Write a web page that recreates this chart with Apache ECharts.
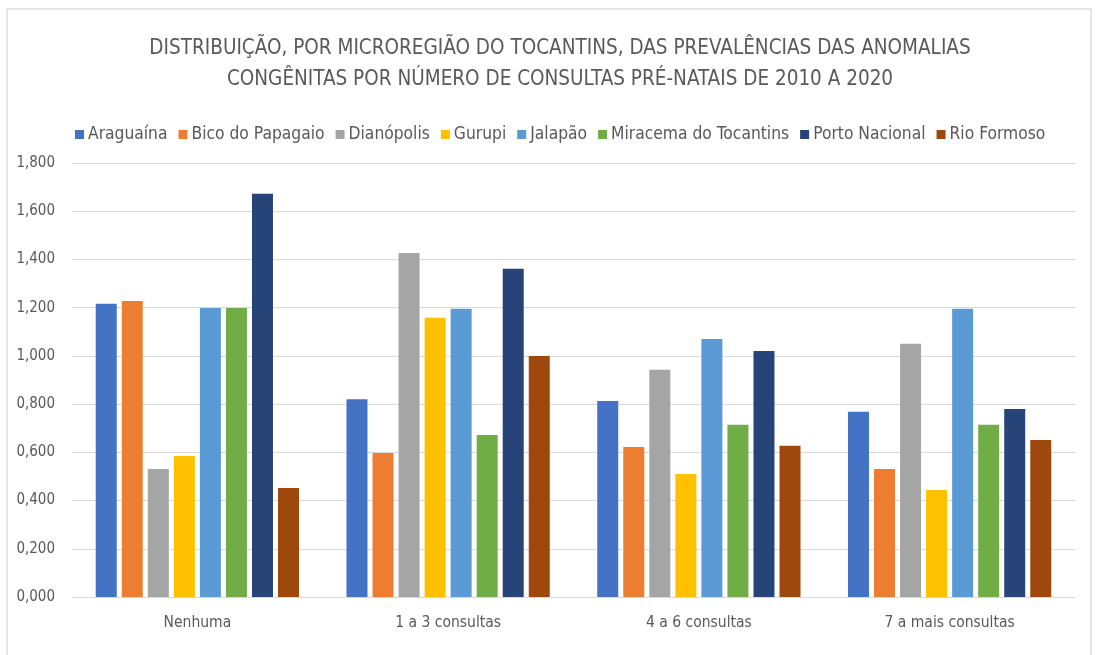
<!DOCTYPE html>
<html><head><meta charset="utf-8">
<script src="https://cdn.jsdelivr.net/npm/echarts@6/dist/echarts.min.js"></script>
<style>html,body{margin:0;padding:0;background:#fff}#c{width:1095px;height:655px}</style>
</head><body><div id="c"></div>
<script>
const categories = ['Nenhuma', '1 a 3 consultas', '4 a 6 consultas', '7 a mais consultas'];
const seriesNames = ['Araguaína', 'Bico do Papagaio', 'Dianópolis', 'Gurupi', 'Jalapão', 'Miracema do Tocantins', 'Porto Nacional', 'Rio Formoso'];
const araguaina = [1.216, 0.820, 0.813, 0.768];
const bico = [1.228, 0.597, 0.622, 0.531];
const dianopolis = [0.531, 1.427, 0.942, 1.050];
const gurupi = [0.585, 1.158, 0.510, 0.444];
const jalapao = [1.199, 1.195, 1.070, 1.195];
const miracema = [1.199, 0.672, 0.714, 0.714];
const portoNacional = [1.672, 1.361, 1.020, 0.780];
const rioFormoso = [0.452, 1.000, 0.627, 0.651];
const values = [araguaina, bico, dianopolis, gurupi, jalapao, miracema, portoNacional, rioFormoso];
const colors = ['#4472C4', '#ED7D31', '#A5A5A5', '#FFC000', '#5B9BD5', '#70AD47', '#264478', '#9E480E'];
const font = '"Liberation Sans Narrow", "DejaVu Sans Condensed", sans-serif';

const chart = echarts.init(document.getElementById('c'), null, {renderer: 'canvas'});
chart.setOption({
  animation: false,
  color: colors,
  graphic: [{
    type: 'rect', silent: true,
    shape: {x: 7, y: 9, width: 1084, height: 700},
    style: {fill: 'none', stroke: '#DDDDDD', lineWidth: 1.5}
  }],
  title: {
    text: 'DISTRIBUIÇÃO, POR MICROREGIÃO DO TOCANTINS, DAS PREVALÊNCIAS DAS ANOMALIAS\nCONGÊNITAS POR NÚMERO DE CONSULTAS PRÉ-NATAIS DE 2010 A 2020',
    left: 555, top: 28, textAlign: 'center',
    textStyle: {fontFamily: font, fontSize: 20.5, fontWeight: 'normal', color: '#595959', lineHeight: 31}
  },
  legend: {
    top: 121, left: 70,
    itemWidth: 9, itemHeight: 9, itemGap: 11,
    icon: 'rect',
    textStyle: {fontFamily: font, fontSize: 17.3, color: '#595959', padding: [0, 0, 0, -1]}
  },
  grid: {left: 72, right: 20, top: 163, bottom: 58},
  xAxis: {
    type: 'category', data: categories,
    axisLine: {lineStyle: {color: '#D9D9D9'}},
    axisTick: {show: false},
    axisLabel: {fontFamily: font, fontSize: 15.5, color: '#595959', margin: 18}
  },
  yAxis: {
    type: 'value', min: 0, max: 1.8, interval: 0.2,
    axisLine: {show: false}, axisTick: {show: false},
    splitLine: {lineStyle: {color: '#D9D9D9'}},
    axisLabel: {fontFamily: font, fontSize: 15, color: '#595959', margin: 17,
      formatter: v => v.toFixed(3).replace('.', ',')}
  },
  series: seriesNames.map((n, i) => ({
    name: n, type: 'bar', data: values[i],
    barWidth: 21, barGap: '24%'
  }))
});
</script>
</body></html>
